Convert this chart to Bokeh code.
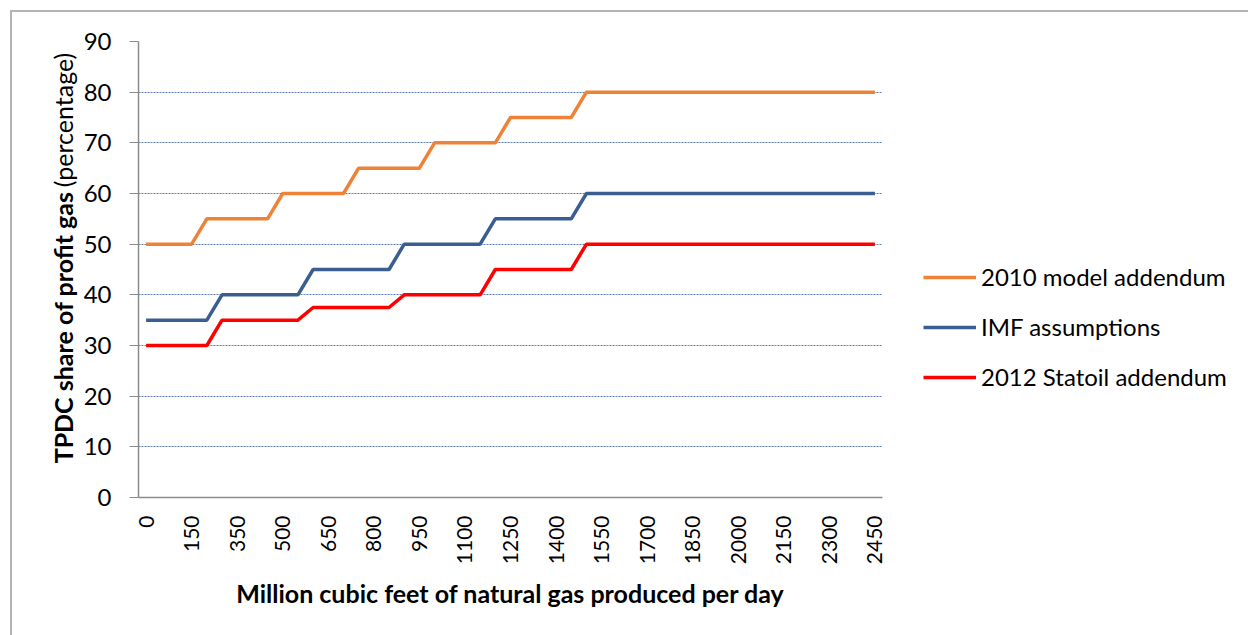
import math
from bokeh.plotting import figure
from bokeh.layouts import row
from bokeh.models import FixedTicker, Legend, LegendItem, ColumnDataSource, Range1d
from bokeh.core.properties import value
from bokeh.embed import file_html
from bokeh.resources import INLINE

categories = ["0", "50", "100", "150", "250", "300", "350", "400", "450", "500",
              "550", "600", "650", "700", "750", "800", "850", "900", "950", "1000",
              "1050", "1100", "1150", "1200", "1250", "1300", "1350", "1400", "1450", "1500",
              "1550", "1600", "1650", "1700", "1750", "1800", "1850", "1900", "1950", "2000",
              "2050", "2100", "2150", "2200", "2250", "2300", "2350", "2400", "2450"]

model_2010 = [50, 50, 50, 50, 55, 55, 55, 55, 55, 60,
              60, 60, 60, 60, 65, 65, 65, 65, 65, 70,
              70, 70, 70, 70, 75, 75, 75, 75, 75, 80,
              80, 80, 80, 80, 80, 80, 80, 80, 80, 80,
              80, 80, 80, 80, 80, 80, 80, 80, 80]

imf = [35, 35, 35, 35, 35, 40, 40, 40, 40, 40,
       40, 45, 45, 45, 45, 45, 45, 50, 50, 50,
       50, 50, 50, 55, 55, 55, 55, 55, 55, 60,
       60, 60, 60, 60, 60, 60, 60, 60, 60, 60,
       60, 60, 60, 60, 60, 60, 60, 60, 60]

statoil_2012 = [30, 30, 30, 30, 30, 35, 35, 35, 35, 35,
                35, 37.5, 37.5, 37.5, 37.5, 37.5, 37.5, 40, 40, 40,
                40, 40, 40, 45, 45, 45, 45, 45, 45, 50,
                50, 50, 50, 50, 50, 50, 50, 50, 50, 50,
                50, 50, 50, 50, 50, 50, 50, 50, 50]

series_names = ["2010 model addendum", "IMF assumptions", "2012 Statoil addendum"]
y_ticks = [0, 10, 20, 30, 40, 50, 60, 70, 80, 90]
y_title_bold = "TPDC share of profit gas"
y_title_normal = "(percentage)"
x_title = "Million cubic feet of natural gas produced per day"

FONT = "Lato"
FS = "24px"
H = 623
LW = 68

# ---- left strip with the two-style y axis title ----
left = figure(width=LW, height=H, x_range=Range1d(0, LW), y_range=Range1d(0, H),
              min_border=0, output_backend="svg", toolbar_location=None)
left.axis.visible = False
left.grid.visible = False
left.outline_line_color = None
left.text(x=[50], y=[418], text=[y_title_bold], angle=math.pi / 2,
          text_align="right", text_baseline="middle", text_font=value(FONT),
          text_font_size="25px", text_font_style="bold", text_color="black")
left.text(x=[50], y=[424], text=[y_title_normal], angle=math.pi / 2,
          text_align="left", text_baseline="middle", text_font=value(FONT),
          text_font_size="25px", text_color="black")

# ---- main chart ----
idx = list(range(len(categories)))
src = ColumnDataSource(dict(x=idx, a=model_2010, b=imf, c=statoil_2012))

p = figure(frame_width=744, frame_height=456, min_border_left=57, min_border_top=29,
           min_border_right=367, min_border_bottom=138,
           x_range=Range1d(-0.5, len(categories) - 0.5), y_range=Range1d(0, 90),
           output_backend="svg", toolbar_location=None)
p.outline_line_color = None

colors = ["#ee8236", "#3a5e92", "#ff0000"]
r1 = p.line("x", "a", source=src, line_color=colors[0], line_width=3.5)
r2 = p.line("x", "b", source=src, line_color=colors[1], line_width=3.5)
r3 = p.line("x", "c", source=src, line_color=colors[2], line_width=3.5)

p.xaxis.ticker = FixedTicker(ticks=idx[::3])
p.xaxis.major_label_overrides = {i: categories[i] for i in idx[::3]}
p.xaxis.major_label_orientation = math.pi / 2
p.xaxis.major_tick_line_color = None
p.xaxis.minor_tick_line_color = None
p.xaxis.axis_line_color = "#8c8c8c"
p.xaxis.axis_line_width = 1.5
p.xaxis.major_label_standoff = 12
p.xaxis.major_label_text_font = FONT
p.xaxis.major_label_text_font_size = "21px"
p.xaxis.major_label_text_color = "black"
p.xaxis.axis_label = x_title
p.xaxis.axis_label_text_font = FONT
p.xaxis.axis_label_text_font_size = "25px"
p.xaxis.axis_label_text_font_style = "bold"
p.xaxis.axis_label_text_color = "black"
p.xaxis.axis_label_standoff = 11

p.yaxis.ticker = FixedTicker(ticks=y_ticks)
p.yaxis.minor_tick_line_color = None
p.yaxis.major_tick_out = 9
p.yaxis.major_tick_in = 0
p.yaxis.major_tick_line_color = "#8c8c8c"
p.yaxis.axis_line_color = "#8c8c8c"
p.yaxis.axis_line_width = 1.5
p.yaxis.major_label_standoff = 18
p.yaxis.major_label_text_font = FONT
p.yaxis.major_label_text_font_size = FS
p.yaxis.major_label_text_color = "black"

p.xgrid.grid_line_color = None
p.ygrid.ticker = FixedTicker(ticks=y_ticks[1:])
p.ygrid.grid_line_color = "#3d66a8"
p.ygrid.grid_line_dash = "2 1"
p.ygrid.grid_line_width = 1
p.ygrid.grid_line_alpha = 0.85

legend = Legend(items=[LegendItem(label=series_names[0], renderers=[r1]),
                       LegendItem(label=series_names[1], renderers=[r2]),
                       LegendItem(label=series_names[2], renderers=[r3])],
                location=(41, 106), orientation="vertical",
                glyph_width=53, glyph_height=24, label_height=24, spacing=21,
                padding=0, margin=0, label_standoff=5,
                label_text_font=FONT, label_text_font_size=FS, label_text_color="black",
                border_line_color=None, background_fill_alpha=0)
p.add_layout(legend, "right")

layout = row(left, p, styles={"border-left": "2px solid #b4b4b4",
                              "border-top": "2px solid #b4b4b4",
                              "margin-left": "10px", "margin-top": "10px"})

open("out.html", "w").write(file_html(layout, INLINE))
